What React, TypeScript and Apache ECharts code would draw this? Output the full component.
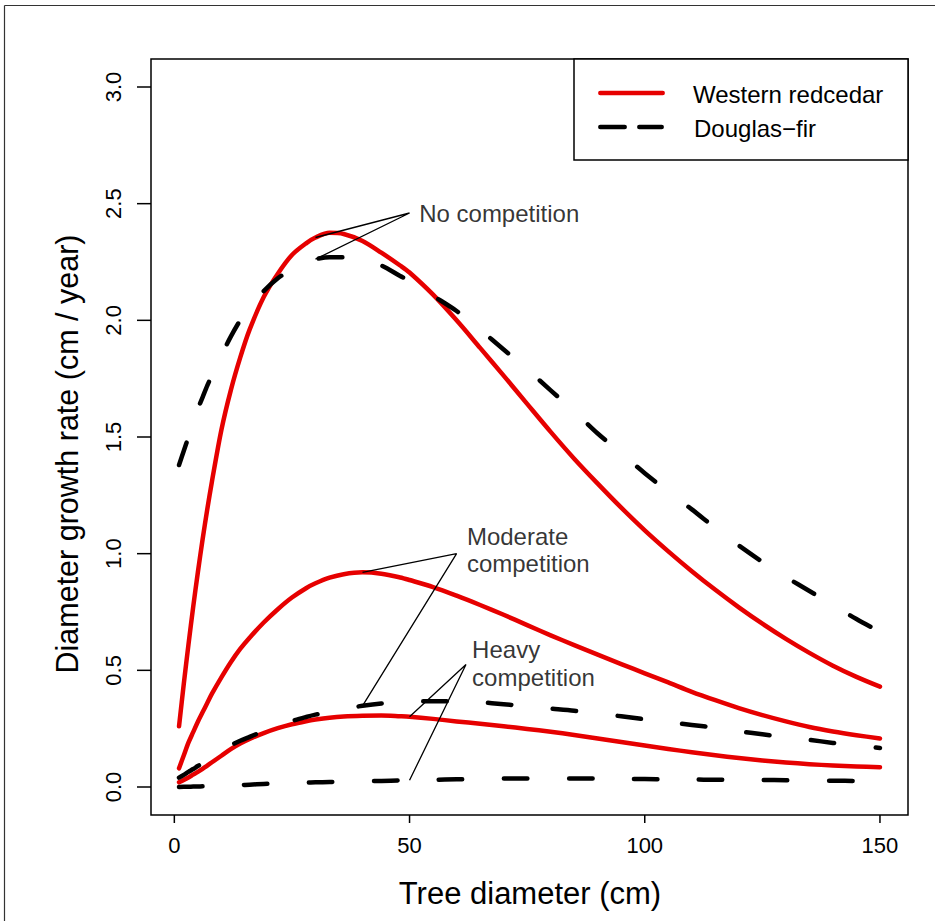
import React, { useEffect, useRef } from "react";
import * as echarts from "echarts";

// Tree diameter (cm) sample positions shared by every curve
const X = [1, 2, 3, 4, 5, 6, 7, 8, 10, 12, 14, 16, 19, 22, 25, 28, 30, 33, 36, 40, 44, 48, 50, 55, 60, 65, 70, 75, 80, 85, 90, 95, 100, 105, 110, 115, 120, 125, 130, 135, 140, 145, 150];

// Western redcedar (solid red)
const wrcNone = [0.26, 0.44, 0.61, 0.77, 0.92, 1.06, 1.19, 1.31, 1.53, 1.7, 1.84, 1.96, 2.1, 2.2, 2.28, 2.33, 2.355, 2.375, 2.37, 2.34, 2.29, 2.235, 2.205, 2.11, 2.0, 1.882, 1.763, 1.642, 1.522, 1.407, 1.3, 1.197, 1.1, 1.01, 0.925, 0.845, 0.77, 0.7, 0.635, 0.575, 0.52, 0.472, 0.43];
const wrcModerate = [0.08, 0.135, 0.19, 0.235, 0.28, 0.32, 0.36, 0.4, 0.47, 0.535, 0.592, 0.64, 0.705, 0.762, 0.812, 0.852, 0.873, 0.897, 0.912, 0.92, 0.914, 0.898, 0.887, 0.857, 0.82, 0.78, 0.738, 0.694, 0.65, 0.608, 0.567, 0.527, 0.487, 0.448, 0.408, 0.372, 0.338, 0.308, 0.281, 0.257, 0.238, 0.222, 0.208];
const wrcHeavy = [0.02, 0.03, 0.041, 0.053, 0.065, 0.078, 0.092, 0.106, 0.134, 0.162, 0.186, 0.206, 0.231, 0.252, 0.269, 0.282, 0.289, 0.297, 0.302, 0.305, 0.306, 0.303, 0.301, 0.292, 0.281, 0.271, 0.26, 0.249, 0.237, 0.223, 0.208, 0.193, 0.178, 0.163, 0.149, 0.136, 0.124, 0.114, 0.105, 0.098, 0.092, 0.088, 0.085];

// Douglas-fir (dashed black)
const dfNone = [1.38, 1.44, 1.5, 1.56, 1.62, 1.67, 1.72, 1.765, 1.85, 1.93, 2.0, 2.055, 2.125, 2.18, 2.22, 2.25, 2.262, 2.27, 2.27, 2.26, 2.235, 2.19, 2.17, 2.105, 2.04, 1.96, 1.875, 1.79, 1.7, 1.61, 1.515, 1.43, 1.345, 1.265, 1.19, 1.11, 1.035, 0.965, 0.9, 0.84, 0.78, 0.72, 0.665];
const dfModerate = [0.04, 0.052, 0.065, 0.077, 0.09, 0.102, 0.113, 0.125, 0.152, 0.178, 0.198, 0.215, 0.24, 0.262, 0.283, 0.3, 0.31, 0.323, 0.335, 0.348, 0.358, 0.364, 0.366, 0.368, 0.367, 0.363, 0.355, 0.345, 0.336, 0.327, 0.315, 0.303, 0.29, 0.278, 0.266, 0.254, 0.239, 0.226, 0.213, 0.202, 0.189, 0.178, 0.167];
const dfHeavy = [0.0, 0.001, 0.001, 0.002, 0.002, 0.003, 0.003, 0.004, 0.005, 0.006, 0.008, 0.01, 0.013, 0.015, 0.017, 0.019, 0.02, 0.021, 0.023, 0.025, 0.026, 0.028, 0.029, 0.031, 0.033, 0.035, 0.036, 0.036, 0.036, 0.036, 0.036, 0.035, 0.034, 0.033, 0.032, 0.031, 0.03, 0.03, 0.029, 0.028, 0.027, 0.026, 0.025];

// Axis ticks
const xTicks = [0, 50, 100, 150];
const yTicks = [0, 0.5, 1, 1.5, 2, 2.5, 3];

// Annotations: label text, label anchor [x, y], pointer apex [x, y], diameter where pointers touch curves
const noCompLabel = "No competition";
const noCompAnchor = [52.05, 2.459];
const noCompApex = [50, 2.46];
const noCompAt = 30;
const modLabel = "Moderate\ncompetition";
const modAnchor = [62.2, 1.015];
const modApex = [60, 1.0];
const modAt = 40;
const heavyLabel = "Heavy\ncompetition";
const heavyAnchor = [63.3, 0.53];
const heavyApex = [62, 0.525];
const heavyAt = 50;

const FONT = "'Liberation Sans', Arial, Helvetica, sans-serif";
const RED = "#e60000";

const pairs = (ys: number[]) => X.map((x, i) => [x, ys[i]]);
const at = (ys: number[], x: number) => ys[X.indexOf(x)];

// plot region (R-style 4% extension of the data range)
const X_MIN = -4.96, X_MAX = 155.96;
const Y_MIN = -0.12, Y_MAX = 3.12;

export default function App() {
  const ref = useRef<HTMLDivElement>(null);
  useEffect(() => {
    const chart = echarts.init(ref.current as HTMLDivElement, null, { renderer: "svg" });
    const solid = (name: string, ys: number[]) => ({
      type: "line",
      name,
      data: pairs(ys),
      smooth: 0.3,
      symbol: "none",
      silent: true,
      lineStyle: { color: RED, width: 4.5, cap: "round", join: "round" },
      z: 3,
    });
    const dashed = (name: string, ys: number[]) => ({
      type: "line",
      name,
      data: pairs(ys),
      smooth: 0.3,
      symbol: "none",
      silent: true,
      lineStyle: { color: "#000", width: 4.5, type: [23.5, 41.5], cap: "round", join: "round" },
      z: 3,
    });
    const pointer = (a: number[], b: number[], c: number[]) => ({
      type: "line",
      data: [a, b, c],
      symbol: "none",
      silent: true,
      lineStyle: { color: "#000", width: 1.3 },
      z: 4,
    });
    chart.setOption({
      animation: false,
      backgroundColor: "#fff",
      grid: {
        left: 151,
        top: 59,
        width: 757,
        height: 756,
        show: true,
        borderColor: "#000",
        borderWidth: 1.5,
        backgroundColor: "transparent",
        outerBoundsMode: "none",
      },
      xAxis: {
        type: "value",
        min: X_MIN,
        max: X_MAX,
        axisLine: { show: false, onZero: false },
        splitLine: { show: false },
        axisTick: { show: false },
        axisLabel: { customValues: xTicks, margin: 19, fontSize: 22, color: "#000", fontFamily: FONT },
      },
      yAxis: {
        type: "value",
        min: Y_MIN,
        max: Y_MAX,
        axisLine: { show: false, onZero: false },
        splitLine: { show: false },
        axisTick: { show: false },
        axisLabel: {
          customValues: yTicks,
          rotate: 90,
          margin: 27,
          fontSize: 22,
          color: "#000",
          fontFamily: FONT,
          formatter: (v: number) => v.toFixed(1),
        },
      },
      series: [
        solid("Western redcedar", wrcNone),
        solid("Western redcedar", wrcModerate),
        solid("Western redcedar", wrcHeavy),
        dashed("Douglas−fir", dfNone),
        dashed("Douglas−fir", dfModerate),
        dashed("Douglas−fir", dfHeavy),
        pointer([noCompAt, at(wrcNone, noCompAt)], noCompApex, [noCompAt, at(dfNone, noCompAt)]),
        pointer([modAt, at(wrcModerate, modAt)], modApex, [modAt, at(dfModerate, modAt)]),
        pointer([heavyAt, at(wrcHeavy, heavyAt)], heavyApex, [heavyAt, at(dfHeavy, heavyAt)]),
        {
          type: "scatter",
          silent: true,
          symbolSize: 0,
          data: [
            { value: noCompAnchor, name: noCompLabel },
            { value: modAnchor, name: modLabel },
            { value: heavyAnchor, name: heavyLabel },
          ],
          label: {
            show: true,
            position: "right",
            distance: 0,
            formatter: (p: any) => p.name,
            color: "#000",
            fontSize: 24,
            lineHeight: 27.5,
            align: "left",
            fontFamily: FONT,
          },
          z: 5,
        },
      ],
    });

    // tick marks: positions come from the chart's own axis scales
    const tickLines: any[] = [];
    xTicks.forEach((v) => {
      const p = chart.convertToPixel({ gridIndex: 0 }, [v, Y_MIN]) as number[];
      tickLines.push({ type: "line", shape: { x1: p[0], y1: p[1], x2: p[0], y2: p[1] + 8 }, style: { stroke: "#000", lineWidth: 1.5 }, z: 12 });
    });
    yTicks.forEach((v) => {
      const p = chart.convertToPixel({ gridIndex: 0 }, [X_MIN, v]) as number[];
      tickLines.push({ type: "line", shape: { x1: p[0] - 14, y1: p[1], x2: p[0], y2: p[1] }, style: { stroke: "#000", lineWidth: 1.5 }, z: 12 });
    });

    chart.setOption({
      graphic: [
        // outer frame
        { type: "line", shape: { x1: 4.5, y1: 5.5, x2: 935, y2: 5.5 }, style: { stroke: "#333", lineWidth: 1.2 } },
        { type: "line", shape: { x1: 4.5, y1: 5.5, x2: 4.5, y2: 921 }, style: { stroke: "#333", lineWidth: 1.2 } },
        // legend
        { type: "rect", shape: { x: 574, y: 59, width: 334, height: 101 }, style: { fill: "#fff", stroke: "#000", lineWidth: 1.5 }, z: 10 },
        { type: "line", shape: { x1: 600.3, y1: 93, x2: 662.7, y2: 93 }, style: { stroke: RED, lineWidth: 4.5, lineCap: "round" }, z: 11 },
        { type: "line", shape: { x1: 600.3, y1: 127, x2: 624.7, y2: 127 }, style: { stroke: "#000", lineWidth: 4.5, lineCap: "round" }, z: 11 },
        { type: "line", shape: { x1: 639.3, y1: 127, x2: 661.7, y2: 127 }, style: { stroke: "#000", lineWidth: 4.5, lineCap: "round" }, z: 11 },
        { type: "text", x: 693, y: 94, style: { text: "Western redcedar", fontSize: 24, fontFamily: FONT, fill: "#000", align: "left", verticalAlign: "middle" }, z: 11 },
        { type: "text", x: 694, y: 128.5, style: { text: "Douglas−fir", fontSize: 24, fontFamily: FONT, fill: "#000", align: "left", verticalAlign: "middle" }, z: 11 },
        // axis titles
        { type: "text", x: 530, y: 893, style: { text: "Tree diameter (cm)", fontSize: 31, fontFamily: FONT, fill: "#000", align: "center", verticalAlign: "middle" } },
        { type: "text", x: 67, y: 454, rotation: Math.PI / 2, style: { text: "Diameter growth rate (cm / year)", fontSize: 30.5, fontFamily: FONT, fill: "#000", align: "center", verticalAlign: "middle" } },
        ...tickLines,
      ],
    });
    return () => chart.dispose();
  }, []);
  return (
    <div
      ref={ref}
      style={{ position: "absolute", left: 0, top: 0, width: 935, height: 921, background: "#fff" }}
    />
  );
}
